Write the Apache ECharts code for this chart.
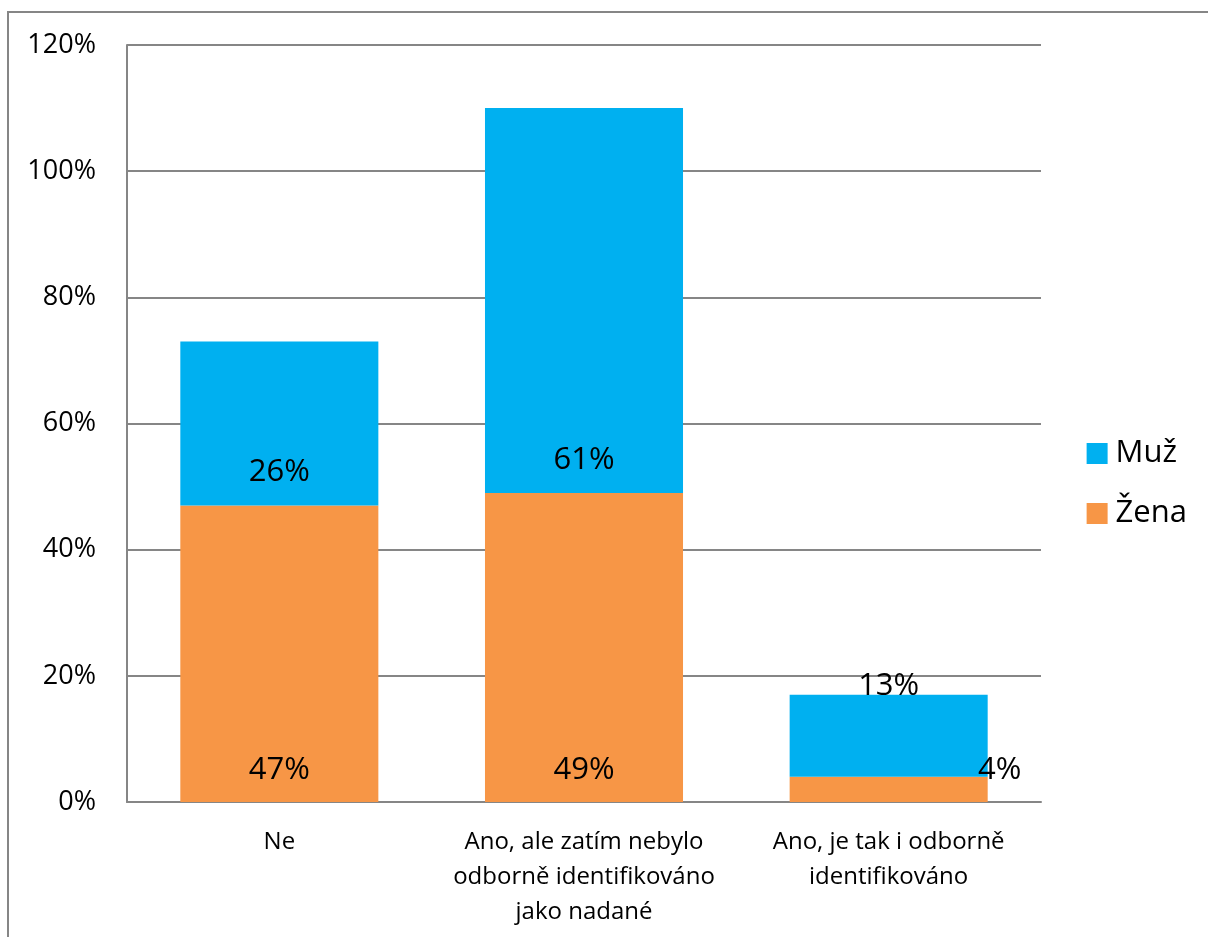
<!DOCTYPE html>
<html>
<head>
<meta charset="utf-8">
<script src="https://cdn.jsdelivr.net/npm/echarts@6/dist/echarts.min.js"></script>
<style>
  html, body { margin: 0; padding: 0; background: #fff; }
  #chart { width: 1208px; height: 937px; }
</style>
</head>
<body>
<div id="chart"></div>
<script>
var categories = ['Ne', 'Ano, ale zatím nebylo\nodborně identifikováno\njako nadané', 'Ano, je tak i odborně\nidentifikováno']
var zena = [47, 49, 4]
var muz = [26, 61, 13]
var yTicks = [0, 20, 40, 60, 80, 100, 120]

var font = 'Open Sans'
var grey = '#868686'

var chart = echarts.init(document.getElementById('chart'))

// labels sit near the base of each segment, like the original
function zenaData() {
  return zena.map(function (v, i) {
    var lab = { position: ['50%', '100%'], offset: [0, -32] }
    if (i === 2) lab.offset = [111, -32]
    return { value: v, label: lab }
  })
}
function muzData() {
  return muz.map(function (v, i) {
    var lab = { position: ['50%', '100%'], offset: [0, -33] }
    if (i === 2) lab = { position: ['50%', '0%'], offset: [0, -9] }
    return { value: v, label: lab }
  })
}

var baseLabel = {
  show: true,
  align: 'center',
  verticalAlign: 'middle',
  color: '#000',
  fontFamily: font,
  fontSize: 31,
  formatter: '{c}%'
}

var option = {
  animation: false,
  backgroundColor: '#fff',
  textStyle: { fontFamily: font },
  graphic: [{
    type: 'rect',
    shape: { x: 8, y: 12, width: 1300, height: 1000 },
    style: { fill: 'none', stroke: grey, lineWidth: 2 },
    silent: true
  }],
  grid: { left: 127, right: 167, top: 45, bottom: 135 },
  legend: {
    orient: 'vertical',
    right: 16,
    top: 433,
    icon: 'rect',
    itemWidth: 21,
    itemHeight: 21,
    itemGap: 29,
    data: ['Muž', 'Žena'],
    textStyle: { fontFamily: font, fontSize: 31, color: '#000', padding: [0, 0, 0, 3] }
  },
  xAxis: {
    type: 'category',
    data: categories,
    axisLine: { lineStyle: { color: grey, width: 2 } },
    axisTick: { show: false },
    axisLabel: {
      color: '#000',
      fontFamily: font,
      fontSize: 24,
      lineHeight: 35,
      margin: 23,
      interval: 0
    }
  },
  yAxis: {
    type: 'value',
    min: 0,
    max: yTicks[yTicks.length - 1],
    interval: 20,
    axisLine: { show: true, lineStyle: { color: grey, width: 2 } },
    axisTick: { show: false },
    splitLine: { lineStyle: { color: grey, width: 2 } },
    axisLabel: {
      color: '#000',
      fontFamily: font,
      fontSize: 27,
      margin: 31,
      formatter: '{value}%'
    }
  },
  series: [
    {
      name: 'Žena',
      type: 'bar',
      stack: 'a',
      barWidth: '65%',
      itemStyle: { color: '#F79646' },
      label: baseLabel,
      data: zenaData()
    },
    {
      name: 'Muž',
      type: 'bar',
      stack: 'a',
      barWidth: '65%',
      itemStyle: { color: '#00B0F0' },
      label: baseLabel,
      data: muzData()
    }
  ]
}

chart.setOption(option)
</script>
</body>
</html>
